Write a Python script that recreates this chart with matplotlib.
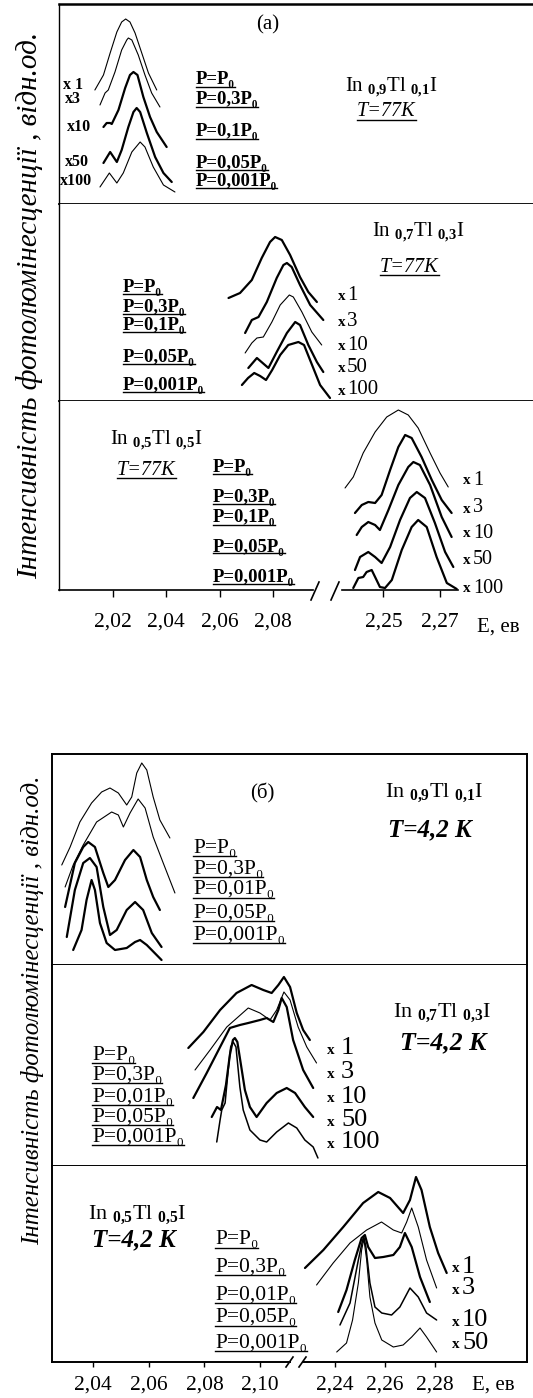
import matplotlib.pyplot as plt
from matplotlib.lines import Line2D

plt.rcParams['font.family'] = ['Liberation Serif', 'DejaVu Serif']
plt.rcParams['mathtext.fontset'] = 'custom'
plt.rcParams['mathtext.rm'] = 'Liberation Serif'
plt.rcParams['mathtext.it'] = 'Liberation Serif:italic'
plt.rcParams['mathtext.bf'] = 'Liberation Serif:bold'

W, H = 533, 1398

# ---- (a) T = 77 K ------------------------------------------------------
# In0.9Tl0.1I
a1_e_x1 = [2.0134, 2.0166, 2.0191, 2.0216, 2.0234, 2.0249, 2.0265, 2.0284, 2.0309, 2.0334, 2.0365]
a1_i_x1 = [114, 129, 151, 172, 182, 185, 182, 171, 151, 131, 114]
a1_e_x3 = [2.0153, 2.0172, 2.0184, 2.0209, 2.0234, 2.0253, 2.0259, 2.0272, 2.0296, 2.0321, 2.0346, 2.0377]
a1_i_x3 = [99, 111, 114, 132, 154, 164, 166, 164, 149, 129, 111, 97]
a1_e_x10 = [2.0166, 2.0178, 2.0191, 2.0197, 2.0222, 2.0247, 2.0265, 2.0278, 2.0293, 2.0315, 2.0340, 2.0365, 2.0402]
a1_i_x10 = [77, 81, 81, 80, 94, 116, 129, 132, 129, 107, 87, 72, 57]
a1_e_x50 = [2.0166, 2.0191, 2.0216, 2.0234, 2.0259, 2.0278, 2.0290, 2.0303, 2.0328, 2.0359, 2.0390, 2.0421]
a1_i_x50 = [41, 52, 42, 54, 77, 92, 96, 92, 71, 47, 31, 22]
a1_e_x100 = [2.0153, 2.0188, 2.0216, 2.0240, 2.0272, 2.0303, 2.0321, 2.0352, 2.0390, 2.0433]
a1_i_x100 = [17, 31, 21, 31, 52, 62, 57, 37, 19, 12]

# In0.7Tl0.3I
a2_e_x1 = [2.0633, 2.0676, 2.0720, 2.0757, 2.0788, 2.0807, 2.0832, 2.0863, 2.0900, 2.0931, 2.0963]
a2_i_x1 = [103, 108, 121, 143, 159, 164, 161, 146, 124, 109, 99]
a2_e_x3 = [2.0695, 2.0720, 2.0745, 2.0776, 2.0813, 2.0838, 2.0851, 2.0869, 2.0900, 2.0938, 2.0987]
a2_i_x3 = [68, 81, 84, 99, 123, 136, 138, 134, 116, 96, 81]
a2_e_x10 = [2.0695, 2.0720, 2.0739, 2.0763, 2.0795, 2.0826, 2.0860, 2.0875, 2.0907, 2.0944, 2.0981]
a2_i_x10 = [48, 58, 63, 64, 79, 96, 106, 104, 89, 69, 56]
a2_e_x50 = [2.0707, 2.0739, 2.0782, 2.0813, 2.0851, 2.0882, 2.0900, 2.0931, 2.0963, 2.0987]
a2_i_x50 = [33, 43, 33, 49, 68, 79, 76, 56, 39, 29]
a2_e_x100 = [2.0683, 2.0706, 2.0729, 2.0751, 2.0773, 2.0796, 2.0826, 2.0856, 2.0894, 2.0915, 2.0945, 2.0975, 2.1012]
a2_i_x100 = [16, 23, 28, 25, 21, 31, 46, 56, 59, 56, 36, 16, 3]

# In0.5Tl0.5I
a3_e_x1 = [2.2365, 2.2394, 2.2429, 2.2471, 2.2512, 2.2553, 2.2588, 2.2623, 2.2665, 2.2700, 2.2729]
a3_i_x1 = [102, 113, 137, 158, 173, 180, 175, 162, 137, 117, 103]
a3_e_x3 = [2.2400, 2.2424, 2.2447, 2.2471, 2.2494, 2.2524, 2.2553, 2.2577, 2.2600, 2.2635, 2.2671, 2.2706, 2.2741]
a3_i_x3 = [77, 85, 88, 87, 95, 120, 143, 155, 152, 133, 110, 90, 77]
a3_e_x10 = [2.2406, 2.2424, 2.2447, 2.2471, 2.2488, 2.2518, 2.2553, 2.2588, 2.2606, 2.2629, 2.2665, 2.2706, 2.2741]
a3_i_x10 = [55, 63, 68, 65, 60, 80, 105, 123, 128, 125, 105, 73, 53]
a3_e_x50 = [2.2400, 2.2418, 2.2447, 2.2471, 2.2494, 2.2524, 2.2559, 2.2594, 2.2618, 2.2647, 2.2682, 2.2718, 2.2747]
a3_i_x50 = [20, 33, 38, 33, 27, 43, 70, 92, 98, 92, 67, 38, 23]
a3_e_x100 = [2.2394, 2.2412, 2.2429, 2.2441, 2.2459, 2.2471, 2.2488, 2.2506, 2.2530, 2.2565, 2.2600,
             2.2623, 2.2653, 2.2688, 2.2724, 2.2759]
a3_i_x100 = [2, 12, 13, 18, 20, 13, 3, 2, 10, 40, 63, 70, 63, 33, 7, 1]

# ---- (б) T = 4,2 K -----------------------------------------------------
b1_e_x1 = [2.0288, 2.0318, 2.0353, 2.0395, 2.0431, 2.0461, 2.0491, 2.0521, 2.0539, 2.0557, 2.0575,
           2.0593, 2.0616, 2.0640, 2.0676]
b1_i_x1 = [100, 118, 143, 162, 173, 177, 172, 160, 168, 192, 202, 195, 168, 145, 127]
b1_e_x3 = [2.0300, 2.0329, 2.0365, 2.0413, 2.0467, 2.0491, 2.0509, 2.0533, 2.0562, 2.0587, 2.0616, 2.0652, 2.0694]
b1_i_x3 = [78, 100, 120, 143, 153, 150, 138, 152, 166, 157, 128, 102, 72]
b1_e_x10 = [2.0300, 2.0335, 2.0365, 2.0383, 2.0407, 2.0437, 2.0455, 2.0479, 2.0515, 2.0545, 2.0569,
            2.0593, 2.0616, 2.0640]
b1_i_x10 = [58, 102, 118, 123, 118, 92, 78, 85, 105, 115, 108, 85, 68, 55]
b1_e_x50 = [2.0306, 2.0335, 2.0365, 2.0389, 2.0413, 2.0437, 2.0461, 2.0485, 2.0521, 2.0551, 2.0580, 2.0611, 2.0646]
b1_i_x50 = [28, 75, 102, 107, 98, 58, 30, 35, 55, 63, 55, 32, 18]
b1_e_x100 = [2.0329, 2.0359, 2.0377, 2.0395, 2.0407, 2.0425, 2.0449, 2.0479, 2.0521, 2.0551, 2.0569, 2.0593, 2.0646]
b1_i_x100 = [15, 35, 65, 85, 75, 42, 22, 15, 17, 23, 25, 20, 5]

b2_e_x1 = [2.0742, 2.0796, 2.0856, 2.0915, 2.0969, 2.1011, 2.1041, 2.1065, 2.1085, 2.1107, 2.1131, 2.1154, 2.1178]
b2_i_x1 = [118, 134, 156, 173, 181, 176, 173, 181, 189, 179, 153, 136, 126]
b2_e_x3 = [2.0766, 2.0820, 2.0880, 2.0957, 2.0999, 2.1035, 2.1059, 2.1085, 2.1107, 2.1136, 2.1167, 2.1202]
b2_i_x3 = [96, 116, 139, 158, 153, 146, 156, 174, 166, 139, 119, 103]
b2_e_x10 = [2.0760, 2.0808, 2.0856, 2.0891, 2.0927, 2.0957, 2.0999, 2.1023, 2.1047, 2.1065, 2.1077,
            2.1095, 2.1118, 2.1154, 2.1190]
b2_i_x10 = [68, 93, 119, 138, 141, 143, 146, 148, 144, 156, 168, 159, 126, 96, 78]
b2_e_x50 = [2.0826, 2.0845, 2.0859, 2.0877, 2.0891, 2.0902, 2.0909, 2.0918, 2.0931, 2.0945, 2.0963,
            2.0987, 2.1005, 2.1023, 2.1059, 2.1095, 2.1125, 2.1160, 2.1190]
b2_i_x50 = [49, 59, 56, 81, 111, 126, 128, 124, 101, 76, 59, 49, 56, 63, 73, 78, 73, 59, 49]
b2_e_x100 = [2.0844, 2.0856, 2.0862, 2.0874, 2.0885, 2.0894, 2.0903, 2.0913, 2.0927, 2.0939, 2.0963,
             2.0999, 2.1023, 2.1059, 2.1101, 2.1131, 2.1160, 2.1190, 2.1207]
b2_i_x100 = [24, 46, 56, 63, 96, 119, 124, 119, 79, 56, 36, 26, 24, 34, 43, 38, 26, 19, 8]

b3_e_x1 = [2.2282, 2.2355, 2.2434, 2.2513, 2.2573, 2.2620, 2.2672, 2.2699, 2.2723, 2.2745, 2.2778, 2.2811, 2.2845]
b3_i_x1 = [94, 112, 135, 159, 170, 164, 149, 162, 185, 172, 135, 109, 89]
b3_e_x3 = [2.2328, 2.2394, 2.2461, 2.2527, 2.2586, 2.2633, 2.2666, 2.2686, 2.2706, 2.2732, 2.2765, 2.2805]
b3_i_x3 = [77, 99, 119, 132, 140, 132, 129, 140, 154, 135, 102, 74]
b3_e_x10 = [2.2414, 2.2447, 2.2480, 2.2507, 2.2520, 2.2533, 2.2560, 2.2593, 2.2633, 2.2659, 2.2679,
            2.2706, 2.2739, 2.2778]
b3_i_x10 = [50, 72, 102, 124, 127, 115, 104, 105, 107, 115, 129, 115, 85, 60]
b3_e_x50 = [2.2421, 2.2461, 2.2494, 2.2511, 2.2516, 2.2524, 2.2540, 2.2560, 2.2587, 2.2626, 2.2659,
            2.2699, 2.2732, 2.2765, 2.2805]
b3_i_x50 = [37, 59, 102, 122, 125, 115, 79, 55, 49, 47, 55, 74, 65, 49, 42]
b3_e_x100 = [2.2408, 2.2447, 2.2471, 2.2494, 2.2507, 2.2516, 2.2527, 2.2540, 2.2560, 2.2587, 2.2633,
             2.2672, 2.2706, 2.2739, 2.2765, 2.2805]
b3_i_x100 = [10, 19, 42, 79, 112, 123, 102, 65, 39, 22, 15, 17, 25, 34, 25, 10]

# labels
ylabel_text = 'Інтенсивність фотолюмінесценції , відн.од.'
gains = ['1', '3', '10', '50', '100']
powers_a = ['P=P₀', 'P=0,3P₀', 'P=0,1P₀', 'P=0,05P₀', 'P=0,001P₀']
powers_b = ['P=P₀', 'P=0,3P₀', 'P=0,01P₀', 'P=0,05P₀', 'P=0,001P₀']
comp_09 = 'In $_{\\mathbf{0{,}9}}$Tl $_{\\mathbf{0{,}1}}$I'
comp_07 = 'In $_{\\mathbf{0{,}7}}$Tl $_{\\mathbf{0{,}3}}$I'
comp_05 = 'In $_{\\mathbf{0{,}5}}$Tl $_{\\mathbf{0{,}5}}$I'
ticks_a_low = [2.02, 2.04, 2.06, 2.08]
ticks_a_high = [2.25, 2.27]
ticks_b_low = [2.04, 2.06, 2.08, 2.10]
ticks_b_high = [2.24, 2.26, 2.28]

# energy windows of each panel (low-energy and high-energy branch of the broken axis)
A_LOW = (2.0000, 2.1770)
A_HIGH = (2.1356, 2.3028)
B_LOW = (2.0253, 2.1957)
B_HIGH = (2.1277, 2.3164)

fig = plt.figure(figsize=(W / 100, H / 100), dpi=100)
underlined = []


def fbox(l, t, r, b):
    return [l / W, 1 - b / H, (r - l) / W, (b - t) / H]


def ftext(x, y, s, size, ha='left', **kw):
    return fig.text(x / W, 1 - y / H, s, fontsize=size, ha=ha, va='center', **kw)


def fline(xs, ys, lw):
    fig.add_artist(Line2D([x / W for x in xs], [1 - y / H for y in ys],
                          transform=fig.transFigure, color='k', lw=lw))


def panel(box, xlim, ymax, curves, widths):
    ax = fig.add_axes(fbox(*box))
    ax.set_xlim(*xlim)
    ax.set_ylim(0, ymax)
    for (e, i), lw in zip(curves, widths):
        ax.plot(e, i, color='k', lw=lw, solid_joinstyle='round', solid_capstyle='round')
    ax.set_xticks([])
    ax.set_yticks([])
    return ax


def fmt(v):
    return f'{v:.2f}'.replace('.', ',')


def bottom_ticks(ax, low, ticks_high, ticks_low, length, pad):
    ax.set_xticks(ticks_high)
    ax.set_xticklabels([fmt(v) for v in ticks_high])
    tw = ax.twiny()
    tw.set_xlim(*low)
    tw.xaxis.set_ticks_position('bottom')
    tw.set_xticks(ticks_low)
    tw.set_xticklabels([fmt(v) for v in ticks_low])
    for a in (ax, tw):
        a.tick_params(axis='x', direction='out', length=length, width=1.0, pad=pad, labelsize=15.5)
    for s in tw.spines.values():
        s.set_visible(False)
    ax.spines['bottom'].set_visible(False)


thin, mid, thick = 0.8, 1.1, 1.6

# ---------------- panel (a) ----------------
a1 = panel((59, 4, 533, 204), A_LOW, 200,
           [(a1_e_x1, a1_i_x1), (a1_e_x3, a1_i_x3), (a1_e_x10, a1_i_x10),
            (a1_e_x50, a1_i_x50), (a1_e_x100, a1_i_x100)],
           [thin, thin, thick, thick, thin])
a2 = panel((59, 204, 533, 401), A_LOW, 197,
           [(a2_e_x1, a2_i_x1), (a2_e_x3, a2_i_x3), (a2_e_x10, a2_i_x10),
            (a2_e_x50, a2_i_x50), (a2_e_x100, a2_i_x100)],
           [thick, thick, thin, thick, thick])
a3 = panel((59, 401, 533, 590), A_HIGH, 189,
           [(a3_e_x1, a3_i_x1), (a3_e_x3, a3_i_x3), (a3_e_x10, a3_i_x10),
            (a3_e_x50, a3_i_x50), (a3_e_x100, a3_i_x100)],
           [thin, thick, thick, thick, thick])
for ax in (a1, a2, a3):
    ax.spines['right'].set_visible(False)
    ax.spines['left'].set_linewidth(1.0)
    ax.spines['bottom'].set_linewidth(1.3)
a1.spines['top'].set_linewidth(1.8)
a2.spines['top'].set_visible(False)
a3.spines['top'].set_visible(False)
bottom_ticks(a3, A_LOW, ticks_a_high, ticks_a_low, 5, 11)
fline([59, 313], [590, 590], 1.2)
fline([342, 458], [590, 590], 1.2)
fline([311, 319], [600, 582], 1.2)
fline([331, 339], [600, 582], 1.2)
ftext(477, 627, 'E, ев', 15)

ftext(268, 25, '(a)', 15, ha='center')
for (x, y), g in zip([(63, 85), (65, 99), (67, 127), (65, 162), (60, 181)], ['x 1', 'x3', 'x10', 'x50', 'x100']):
    ftext(x, y, g, 11.5, fontweight='bold')
for y, p in zip([80, 100, 132, 163, 181], powers_a):
    underlined.append(ftext(196, y, p, 13.5, fontweight='bold'))
ftext(345, 87, comp_09, 15)
underlined.append(ftext(357, 112, 'T=77K', 14.5, style='italic'))

ftext(372, 232, comp_07, 15)
underlined.append(ftext(380, 267, 'T=77K', 14.5, style='italic'))
for y, p in zip([287, 307, 325, 357, 385], powers_a):
    underlined.append(ftext(123, y, p, 13.5, fontweight='bold'))
for y, g in zip([295, 322, 345, 368, 390], gains):
    ftext(338, y + 1, 'x', 11, fontweight='bold')
    ftext(347, y, g, 15)

ftext(110, 440, comp_05, 15)
underlined.append(ftext(117, 470, 'T=77K', 14.5, style='italic'))
for y, p in zip([468, 497, 518, 547, 577], powers_a):
    underlined.append(ftext(213, y, p, 13.5, fontweight='bold'))
for y, g in zip([480, 508, 533, 560, 588], gains):
    ftext(463, y + 1, 'x', 11, fontweight='bold')
    ftext(473, y, g, 14.5)

ftext(30, 305, ylabel_text, 21, ha='center', rotation=90, style='italic')

# ---------------- panel (б) ----------------
b1 = panel((52, 754, 527, 965), B_LOW, 211,
           [(b1_e_x1, b1_i_x1), (b1_e_x3, b1_i_x3), (b1_e_x10, b1_i_x10),
            (b1_e_x50, b1_i_x50), (b1_e_x100, b1_i_x100)],
           [thin, thin, thick, thick, thick])
b2 = panel((52, 965, 527, 1166), B_LOW, 201,
           [(b2_e_x1, b2_i_x1), (b2_e_x3, b2_i_x3), (b2_e_x10, b2_i_x10),
            (b2_e_x50, b2_i_x50), (b2_e_x100, b2_i_x100)],
           [thick, thin, thick, thick, mid])
b3 = panel((52, 1166, 527, 1362), B_HIGH, 196,
           [(b3_e_x1, b3_i_x1), (b3_e_x3, b3_i_x3), (b3_e_x10, b3_i_x10),
            (b3_e_x50, b3_i_x50), (b3_e_x100, b3_i_x100)],
           [thick, thin, thick, mid, thin])
for ax in (b1, b2, b3):
    for s in ax.spines.values():
        s.set_linewidth(1.4)
b2.spines['top'].set_visible(False)
b3.spines['top'].set_visible(False)
bottom_ticks(b3, B_LOW, ticks_b_high, ticks_b_low, 3.6, 6.5)
fline([52, 290], [1362, 1362], 1.4)
fline([303, 527], [1362, 1362], 1.4)
fline([286, 293], [1367, 1357], 1.2)
fline([299, 306], [1367, 1357], 1.2)
ftext(472, 1385, 'E, ев', 15)

ftext(262, 793, '(б)', 15, ha='center')
ftext(385, 793, comp_09, 16)
ftext(388, 830, 'T=4,2 K', 18, style='italic', fontweight='bold')
for y, p in zip([849, 869, 890, 913, 935], powers_b):
    underlined.append(ftext(193, y, p, 15.5))

ftext(393, 1013, comp_07, 16)
ftext(400, 1043, 'T=4,2 K', 18.5, style='italic', fontweight='bold')
for y, p in zip([1055, 1075, 1097, 1117, 1137], powers_b):
    underlined.append(ftext(92, y, p, 15.5))
for y, g in zip([1048, 1072, 1097, 1120, 1142], gains):
    ftext(327, y + 2, 'x', 11, fontweight='bold')
    ftext(341, y, g, 19)

ftext(88, 1215, comp_05, 16)
ftext(92, 1240, 'T=4,2 K', 18, style='italic', fontweight='bold')
for y, p in zip([1240, 1267, 1295, 1318, 1343], powers_b):
    underlined.append(ftext(215, y, p, 15.5))
for y, g in zip([1267, 1288, 1320, 1343], gains[:4]):
    ftext(452, y + 2, 'x', 11, fontweight='bold')
    ftext(462, y, g, 19)

ftext(33, 1010, ylabel_text, 18, ha='center', rotation=90, style='italic')

# underline the power / temperature captions
fig.canvas.draw()
renderer = fig.canvas.get_renderer()
inv = fig.transFigure.inverted()
for t in underlined:
    bb = t.get_window_extent(renderer)
    (x0, y0), (x1, _) = inv.transform([(bb.x0, bb.y0 + 2), (bb.x1, bb.y0 + 2)])
    fig.add_artist(Line2D([x0, x1], [y0, y0], transform=fig.transFigure, color='k', lw=1.0))

fig.savefig('out.png', dpi=100)
